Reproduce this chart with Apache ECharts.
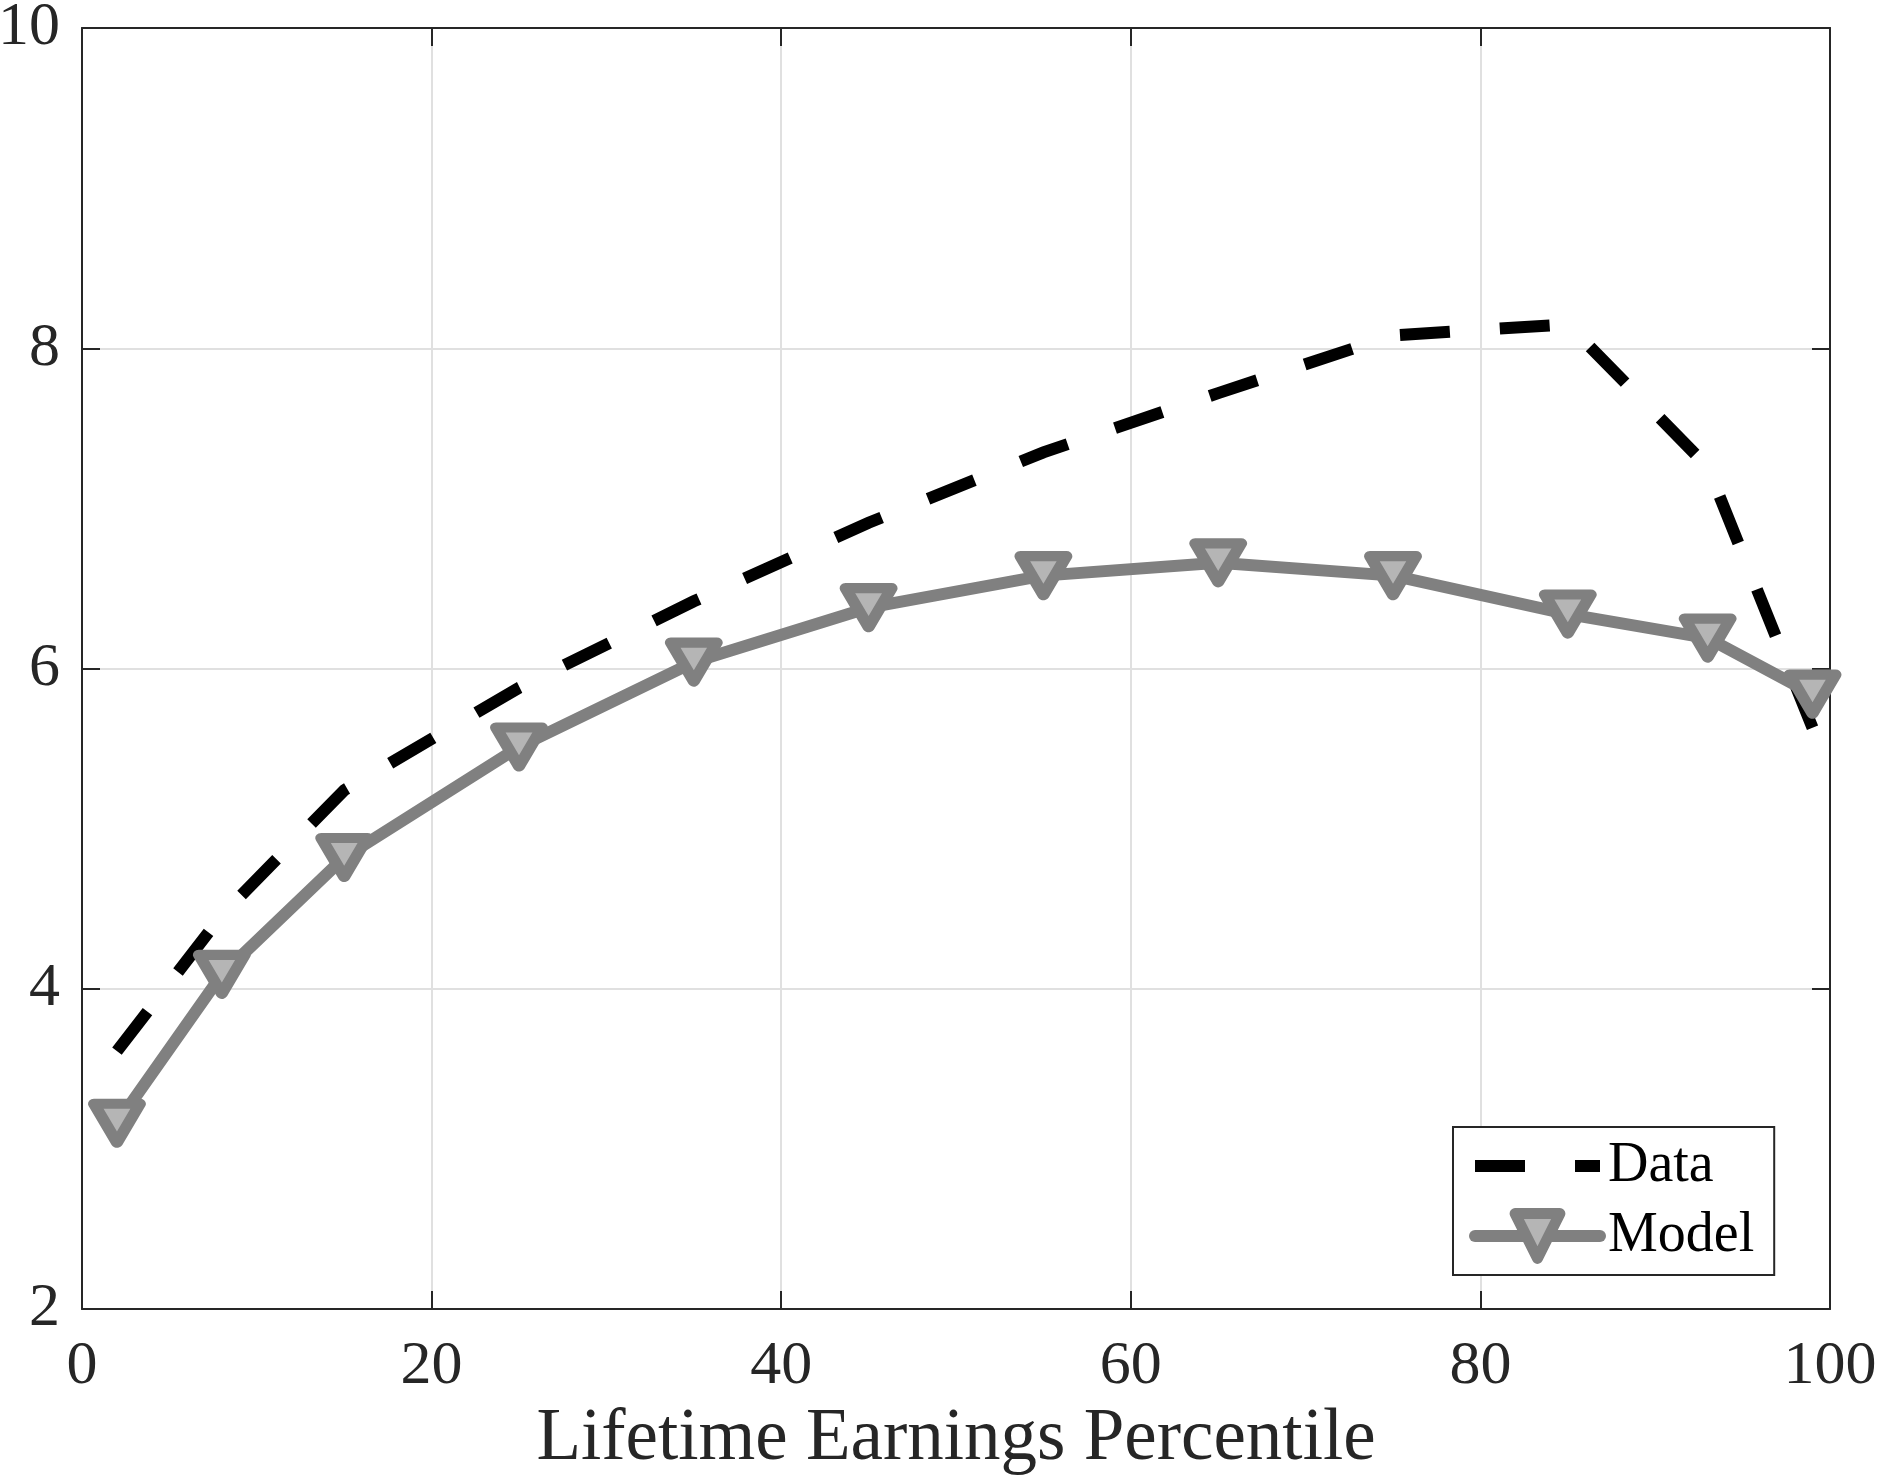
<!DOCTYPE html>
<html>
<head>
<meta charset="utf-8">
<script src="https://cdn.jsdelivr.net/npm/echarts@6/dist/echarts.min.js"></script>
<style>
html,body{margin:0;padding:0;background:#fff;}
#chart{width:1881px;height:1482px;}
</style>
</head>
<body>
<div id="chart"></div>
<script>
// ---- data ----
const percentiles = [2, 8, 15, 25, 35, 45, 55, 65, 75, 85, 93, 99];
const dataValues  = [3.61, 4.46, 5.24, 5.88, 6.42, 6.91, 7.35, 7.72, 8.08, 8.15, 7.26, 5.63];
const modelValues = [3.16, 4.09, 4.82, 5.51, 6.04, 6.38, 6.58, 6.66, 6.58, 6.34, 6.19, 5.84];
const seriesNames = ['Data', 'Model'];
const xAxisTitle = 'Lifetime Earnings Percentile';

const FONT = '"Liberation Serif", "Times New Roman", serif';
const AX = '#262626';

const toPairs = (xs, ys) => xs.map((x, i) => [x, ys[i]]);

const chart = echarts.init(document.getElementById('chart'), null, {renderer: 'canvas'});

const commonX = {
  type: 'value', min: 0, max: 100, interval: 20,
  axisLine: {show: true, onZero: false, lineStyle: {color: AX, width: 2}},
  axisTick: {show: true, inside: true, length: 18, lineStyle: {color: AX, width: 2}},
};
const commonY = {
  type: 'value', min: 2, max: 10, interval: 2,
  axisLine: {show: true, onZero: false, lineStyle: {color: AX, width: 2}},
  axisTick: {show: true, inside: true, length: 18, lineStyle: {color: AX, width: 2}},
};

chart.setOption({
  animation: false,
  backgroundColor: '#ffffff',
  grid: {left: 82, right: 51, top: 28, bottom: 173, containLabel: false, outerBoundsMode: 'none'},
  xAxis: [
    Object.assign({}, commonX, {
      position: 'bottom',
      name: xAxisTitle, nameLocation: 'middle', nameGap: 61,
      nameTextStyle: {fontFamily: FONT, fontSize: 73, color: AX},
      axisLabel: {show: true, margin: 27, fontFamily: FONT, fontSize: 62, color: AX},
      splitLine: {show: true, lineStyle: {color: '#e0e0e0', width: 2}},
    }),
    Object.assign({}, commonX, {
      position: 'top',
      axisLabel: {show: false},
      splitLine: {show: false},
    }),
  ],
  yAxis: [
    Object.assign({}, commonY, {
      position: 'left',
      axisLabel: {show: true, margin: 22, fontFamily: FONT, fontSize: 62, color: AX},
      splitLine: {show: true, lineStyle: {color: '#e0e0e0', width: 2}},
    }),
    Object.assign({}, commonY, {
      position: 'right',
      axisLabel: {show: false},
      splitLine: {show: false},
    }),
  ],
  legend: {
    orient: 'vertical',
    left: 1453, top: 1127,
    padding: [11, 20, 11, 16],
    itemGap: 14,
    itemWidth: 125, itemHeight: 56,
    backgroundColor: '#ffffff',
    borderColor: AX, borderWidth: 2, borderRadius: 0,
    selectedMode: false,
    lineStyle: {width: 12},
    textStyle: {fontFamily: FONT, fontSize: 56, color: '#000', padding: [0, 0, 0, 3]},
    data: [
      {name: seriesNames[0], itemStyle: {opacity: 0}},
      {name: seriesNames[1], itemStyle: {borderWidth: 11, borderColor: '#808080', color: '#b5b5b5', borderJoin: 'round'}},
    ],
  },
  series: [
    {
      name: seriesNames[0],
      type: 'line',
      data: toPairs(percentiles, dataValues),
      symbol: 'none',
      lineStyle: {color: '#000000', width: 12, type: [50, 50], cap: 'butt', join: 'miter'},
      itemStyle: {color: '#000000'},
      z: 2,
    },
    {
      name: seriesNames[1],
      type: 'line',
      data: toPairs(percentiles, modelValues),
      symbol: 'triangle',
      symbolRotate: 180,
      symbolSize: [46, 39],
      showAllSymbol: true,
      lineStyle: {color: '#808080', width: 12, join: 'round', cap: 'round'},
      itemStyle: {color: '#b5b5b5', borderColor: '#808080', borderWidth: 11, borderJoin: 'round'},
      z: 3,
    },
  ],
});
</script>
</body>
</html>
